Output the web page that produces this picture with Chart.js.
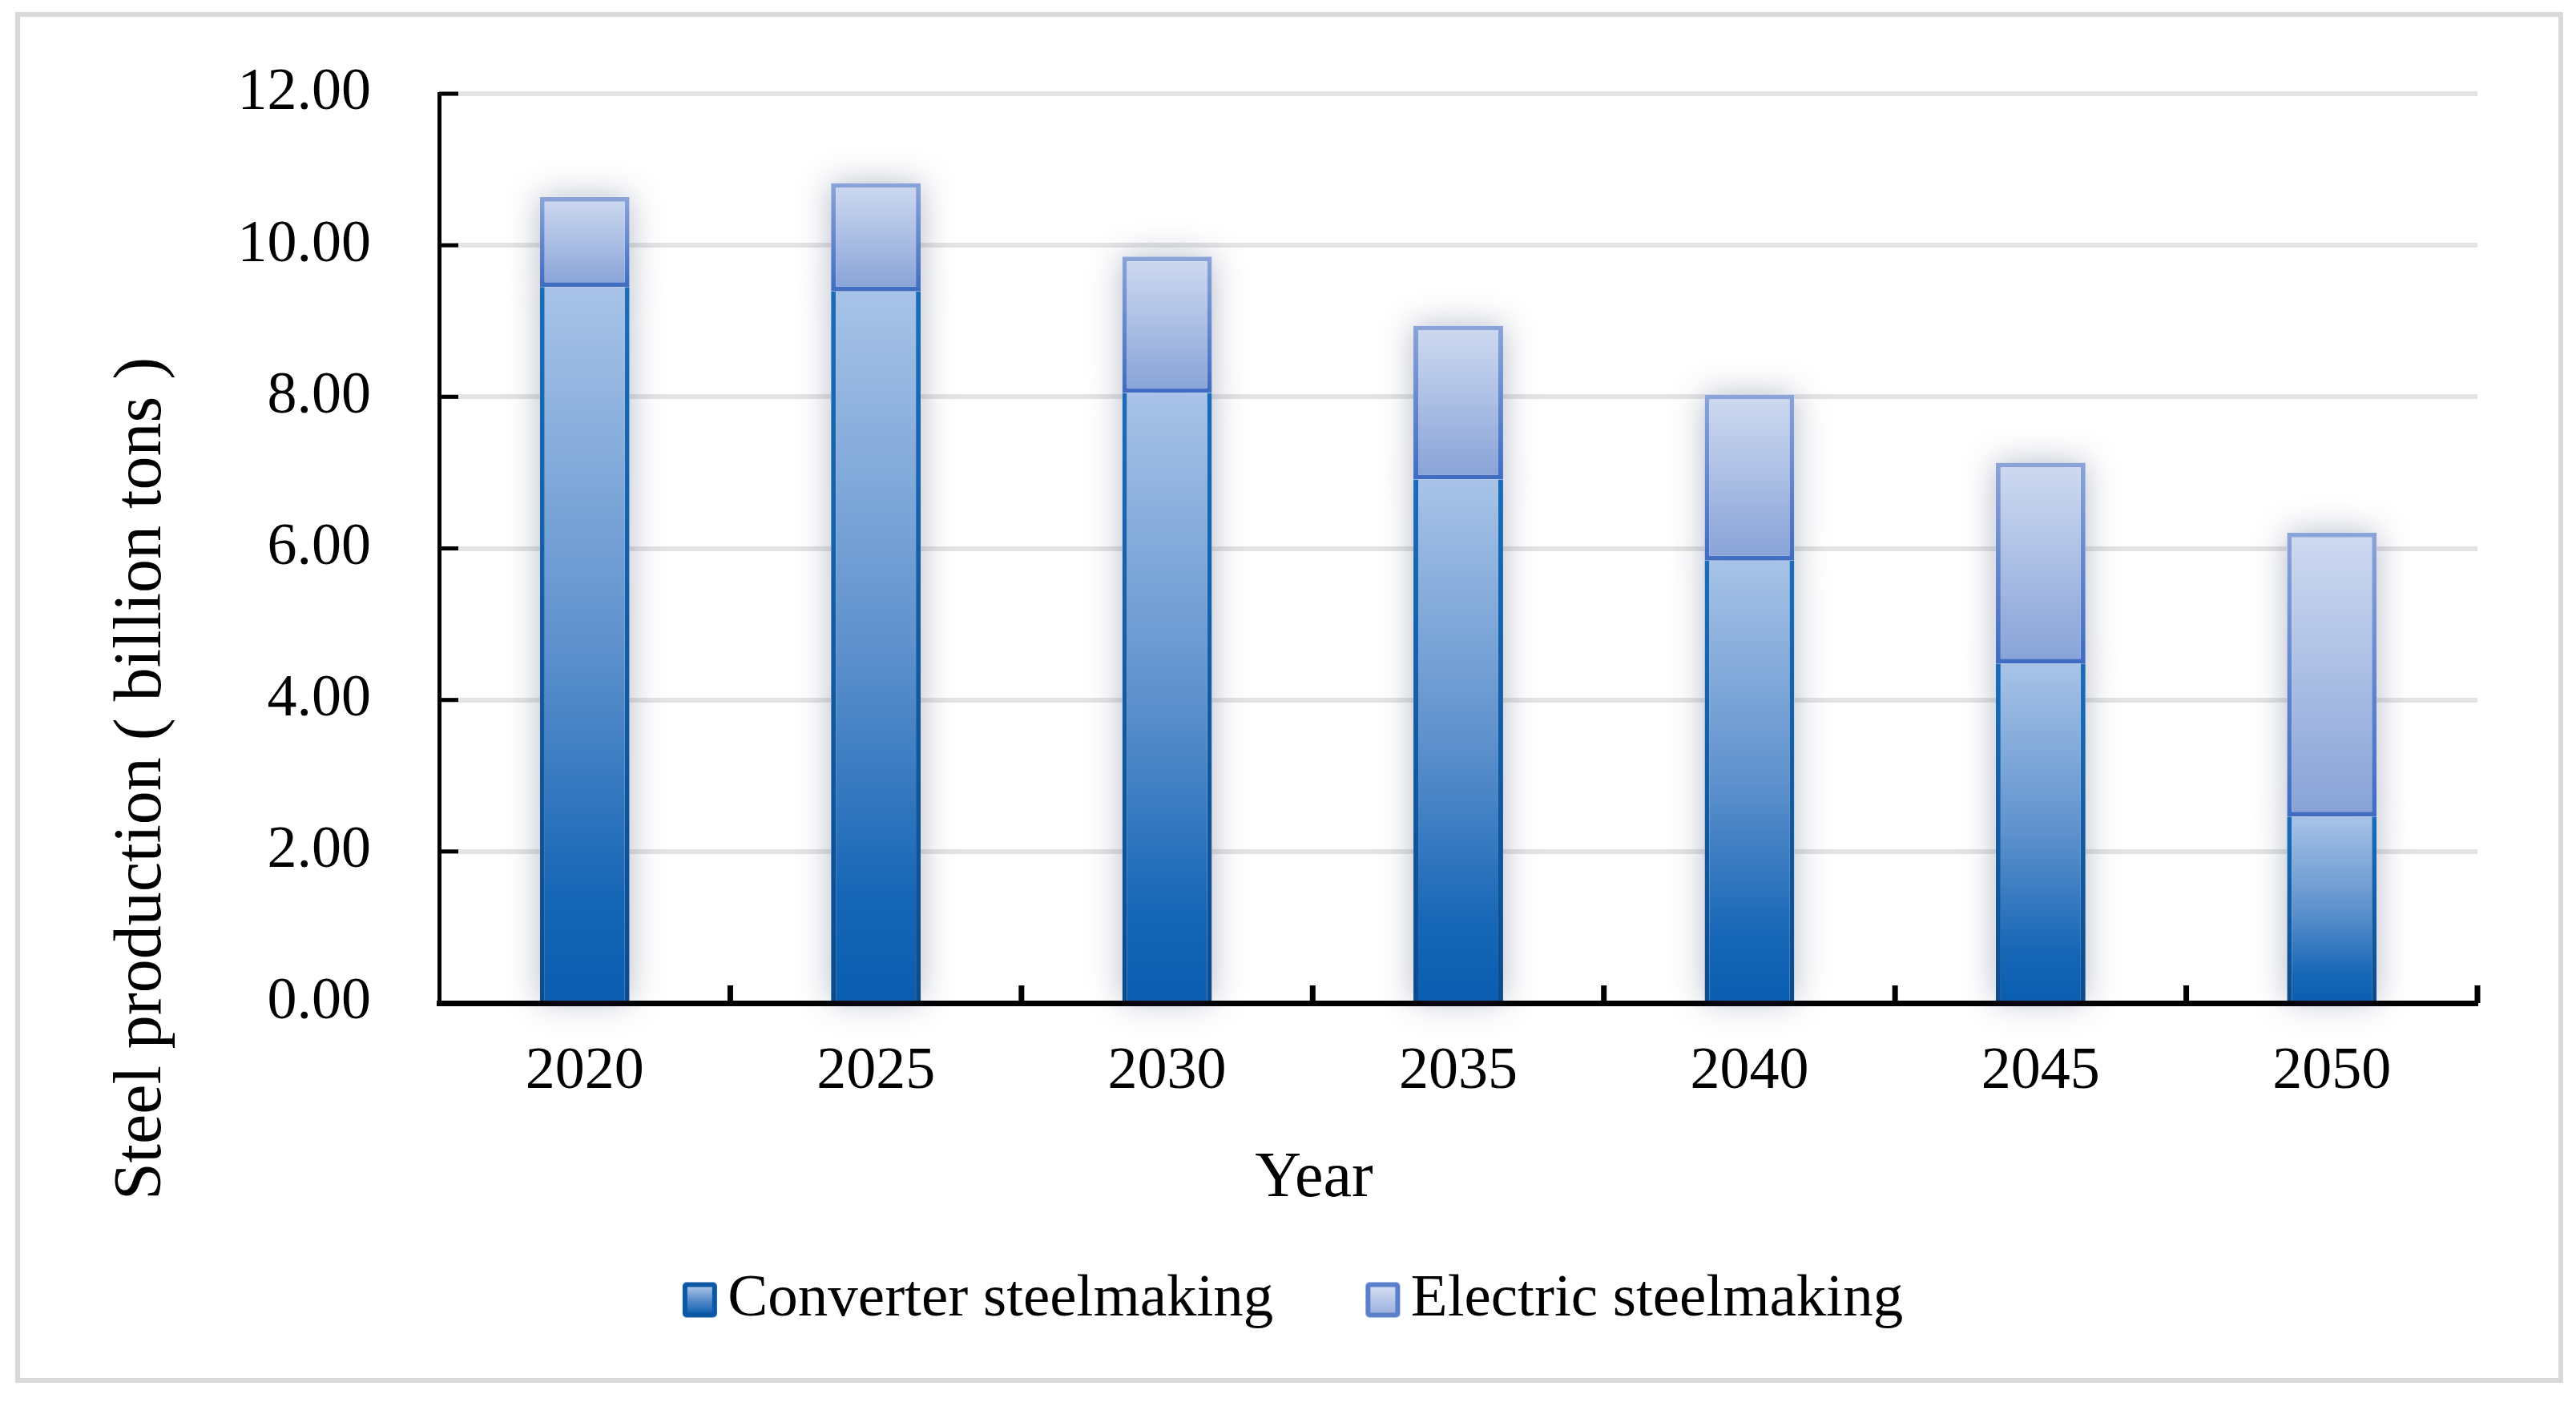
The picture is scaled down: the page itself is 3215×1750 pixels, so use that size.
<!DOCTYPE html>
<html><head><meta charset="utf-8">
<script src="https://cdn.jsdelivr.net/npm/chart.js@4.4.1/dist/chart.umd.min.js"></script>
<style>html,body{margin:0;padding:0;background:#fff;} #wrap{width:3215px;height:1750px;position:relative;} canvas{display:block;}</style>
</head><body><div id="wrap"><canvas id="c" width="3215" height="1750"></canvas></div>
<script>
const years = ['2020','2025','2030','2035','2040','2045','2050'];
const converter = [9.45, 9.39, 8.05, 6.91, 5.84, 4.48, 2.46];
const electric = [1.19, 1.43, 1.80, 2.03, 2.19, 2.65, 3.75];
const yTicks = [0, 2, 4, 6, 8, 10, 12];
const seriesNames = ['Converter steelmaking', 'Electric steelmaking'];
const xTitle = 'Year';
const yTitle = 'Steel production ( billion tons )';

const SERIF = "'Liberation Serif', 'Times New Roman', serif";
Chart.defaults.font.family = SERIF;
Chart.defaults.color = '#000';

function grad(c, y0, y1, stops) {
  const g = c.createLinearGradient(0, y0, 0, y1);
  stops.forEach(s => g.addColorStop(s[0], s[1]));
  return g;
}
function barRange(ctx, ds) {
  const y = ctx.chart.scales.y;
  const i = ctx.dataIndex;
  const base = ds === 0 ? 0 : converter[i];
  const top = ds === 0 ? converter[i] : converter[i] + electric[i];
  return [y.getPixelForValue(base), y.getPixelForValue(top)];
}
const convFill = [[0, '#0a5db0'], [0.15, '#1666b6'], [0.5, '#5e91cd'], [1, '#a8c3e7']];
const convBorder = [[0, '#0c4b8c'], [1, '#1a6cba']];
const elecFill = [[0, '#87a2d7'], [1, '#cfdaf1']];
const elecBorder = [[0, '#3f6cc2'], [1, '#8ba4d9']];

function makeSwatch(border, fillStops) {
  const cv = document.createElement('canvas');
  cv.width = 92; cv.height = 48;
  const c = cv.getContext('2d');
  const x0 = 46, y0 = 2, w = 43, h = 44;
  c.fillStyle = border;
  c.beginPath(); c.roundRect(x0, y0, w, h, 5); c.fill();
  c.fillStyle = grad(c, y0 + 6, y0 + h - 6, fillStops);
  c.fillRect(x0 + 6, y0 + 6, w - 12, h - 12);
  return cv;
}
const swatches = [
  makeSwatch('#0c58a5', [[0, '#a9c3e7'], [0.5, '#5b8ecb'], [1, '#1466b5']]),
  makeSwatch('#5a80cc', [[0, '#d3dcf1'], [1, '#9fb3e0']])
];

const shadowPlugin = {
  id: 'barShadow',
  beforeDatasetsDraw(chart) {
    const c = chart.ctx;
    c.save();
    c.shadowColor = 'rgba(50,60,100,0.35)';
    c.shadowBlur = 40;
    c.fillStyle = '#fff';
    chart.getSortedVisibleDatasetMetas().forEach(meta => {
      meta.data.forEach(el => {
        const p = el.getProps(['x', 'y', 'base', 'width'], true);
        const top = Math.min(p.y, p.base), h = Math.abs(p.base - p.y);
        c.fillRect(p.x - p.width / 2, top, p.width, h);
      });
    });
    c.restore();
  }
};

const decoPlugin = {
  id: 'deco',
  beforeDraw(chart) {
    const c = chart.ctx;
    c.save();
    c.fillStyle = '#fff';
    c.fillRect(0, 0, chart.width, chart.height);
    c.strokeStyle = '#d9d9d9';
    c.lineWidth = 6;
    c.strokeRect(22, 18, 3174, 1705);
    c.restore();
  },
  afterDraw(chart) {
    const c = chart.ctx;
    const {x, y} = chart.scales;
    const a = chart.chartArea;
    c.save();
    c.fillStyle = '#000';
    yTicks.forEach(v => {
      const py = y.getPixelForValue(v);
      c.fillRect(a.left, py - 2.5, 24, 5);
    });
    for (let i = 1; i <= years.length; i++) {
      const px = i < years.length ? (x.getPixelForValue(i - 1) + x.getPixelForValue(i)) / 2 : a.right;
      c.fillRect(px - 3.5, a.bottom - 22, 7, 22);
    }
    c.textAlign = 'center';
    c.textBaseline = 'alphabetic';
    c.font = '80px ' + SERIF;
    c.fillText(xTitle, 1640, 1493);
    c.translate(200, 972);
    c.rotate(-Math.PI / 2);
    c.font = '84px ' + SERIF;
    c.fillText(yTitle, 0, 0);
    c.restore();
  }
};

new Chart(document.getElementById('c'), {
  type: 'bar',
  data: {
    labels: years,
    datasets: [
      {
        label: seriesNames[0],
        data: converter,
        backgroundColor: ctx => {
          if (ctx.type !== 'data') return '#5e8fcc';
          const [b, t] = barRange(ctx, 0);
          return grad(ctx.chart.ctx, b, t, convFill);
        },
        borderColor: ctx => {
          if (ctx.type !== 'data') return '#0c58a5';
          const [b, t] = barRange(ctx, 0);
          return grad(ctx.chart.ctx, b, t, convBorder);
        },
        borderWidth: {left: 6, right: 6, top: 0, bottom: 0},
        borderSkipped: false,
        barPercentage: 0.308,
        categoryPercentage: 1.0
      },
      {
        label: seriesNames[1],
        data: electric,
        backgroundColor: ctx => {
          if (ctx.type !== 'data') return '#c3d0ee';
          const [b, t] = barRange(ctx, 1);
          return grad(ctx.chart.ctx, b, t, elecFill);
        },
        borderColor: ctx => {
          if (ctx.type !== 'data') return '#5a80cc';
          const [b, t] = barRange(ctx, 1);
          return grad(ctx.chart.ctx, b, t, elecBorder);
        },
        borderWidth: 6,
        borderSkipped: false,
        barPercentage: 0.308,
        categoryPercentage: 1.0
      }
    ]
  },
  options: {
    responsive: false,
    animation: false,
    devicePixelRatio: 1,
    layout: {padding: {left: 116, right: 123, top: 117, bottom: 80}},
    scales: {
      x: {
        stacked: true,
        z: 1,
        grid: {display: false, drawTicks: false},
        border: {display: true, color: '#000', width: 7},
        ticks: {font: {size: 74, family: SERIF}, color: '#000', padding: 42, maxRotation: 0},
        afterFit: s => { s.height = 237; }
      },
      y: {
        stacked: true,
        min: 0, max: 12,
        afterBuildTicks: s => { s.ticks = yTicks.map(v => ({value: v})); },
        grid: {color: '#e4e4e4', lineWidth: 6, drawTicks: false},
        border: {display: true, color: '#000', width: 5},
        ticks: {font: {size: 74, family: SERIF}, color: '#000', padding: 85, callback: v => Number(v).toFixed(2)},
        afterFit: s => { s.width = 432; s.paddingTop = 40; s.paddingBottom = 40; }
      }
    },
    plugins: {
      tooltip: {enabled: false},
      legend: {
        position: 'bottom',
        labels: {
          font: {size: 75, family: SERIF},
          color: '#000',
          usePointStyle: true,
          pointStyleWidth: 38,
          boxWidth: 38,
          boxHeight: 40,
          padding: 96,
          generateLabels: chart => chart.data.datasets.map((ds, i) => ({
            text: ds.label,
            fillStyle: i === 0 ? '#5e8fcc' : '#c3d0ee',
            strokeStyle: i === 0 ? '#0c58a5' : '#5a80cc',
            lineWidth: 0,
            pointStyle: swatches[i],
            datasetIndex: i,
            hidden: false
          }))
        }
      }
    }
  },
  plugins: [decoPlugin, shadowPlugin]
});
</script>
</body></html>
